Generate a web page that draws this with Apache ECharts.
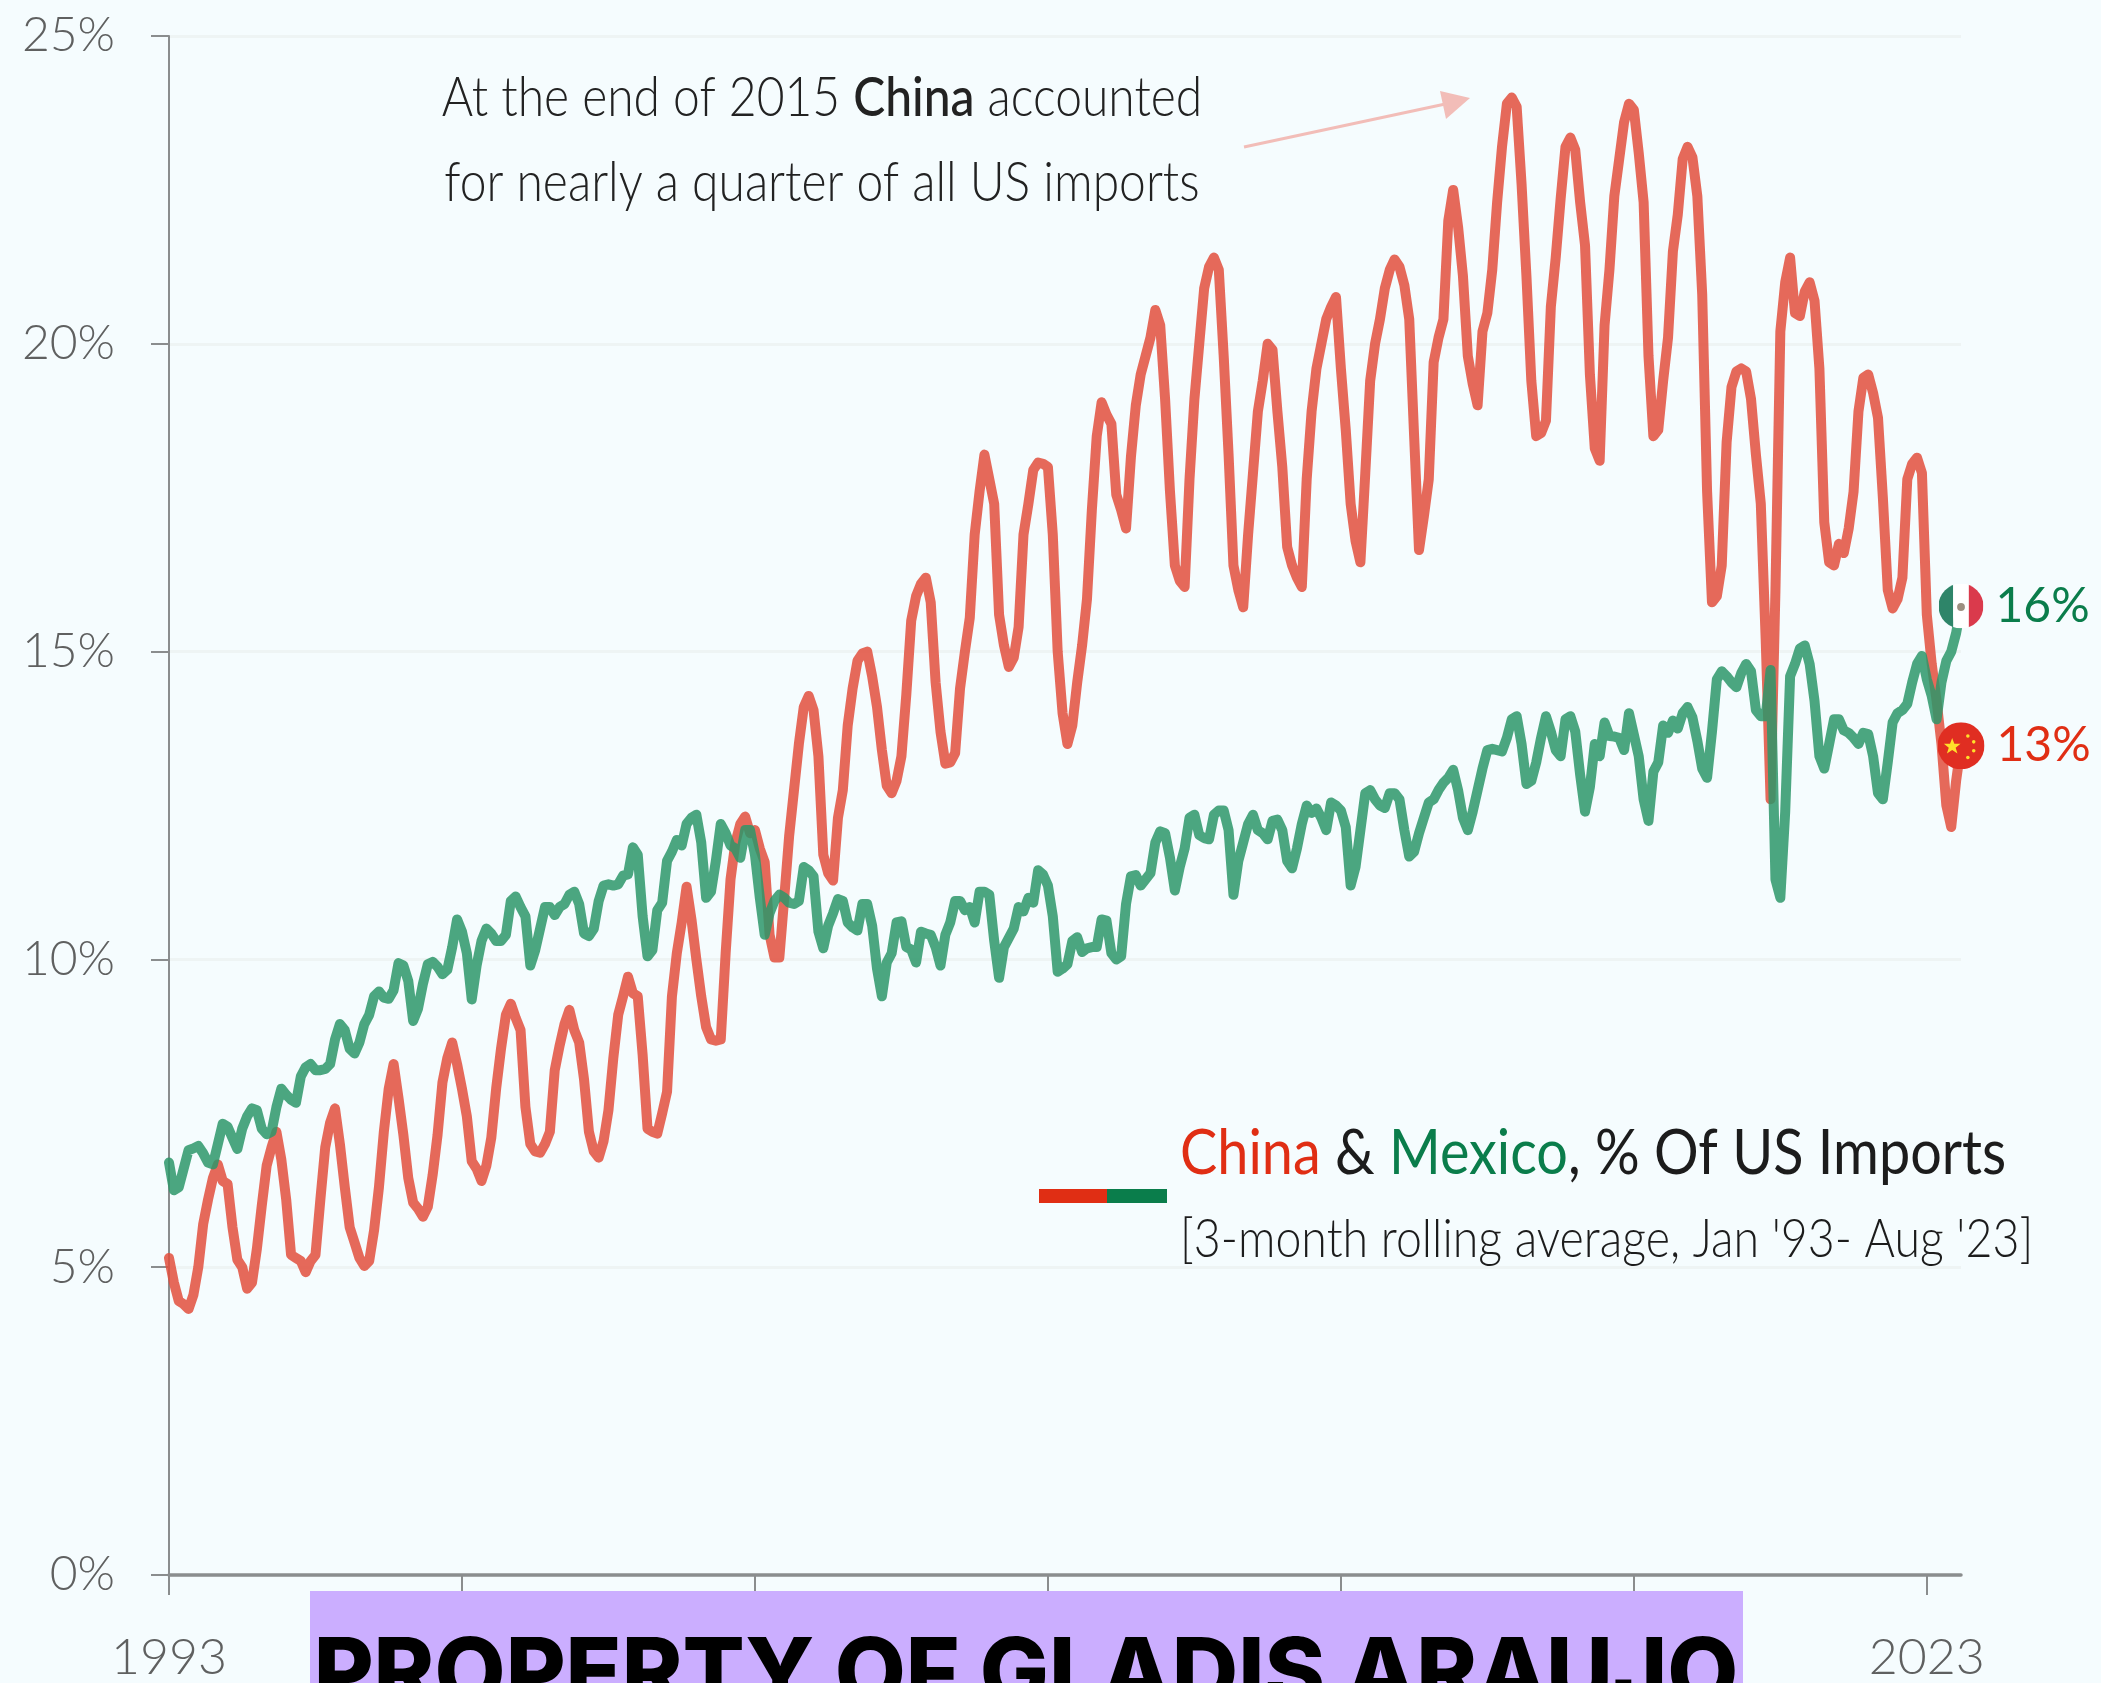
<!DOCTYPE html>
<html><head><meta charset="utf-8">
<style>html,body{margin:0;padding:0;background:#f5fcfe}#c{width:2101px;height:1683px}</style>
<script src="https://cdn.jsdelivr.net/npm/echarts@6/dist/echarts.min.js"></script>
</head><body><div id="c"></div>
<script>
const chinaShare = [
5.15,4.75,4.45,4.4,4.32,4.55,5.0,5.7,6.1,6.45,6.67,6.4,
6.35,5.65,5.12,5.0,4.65,4.75,5.3,6.0,6.65,6.95,7.2,6.75,
6.1,5.2,5.15,5.1,4.92,5.1,5.2,6.1,6.95,7.35,7.58,7.0,
6.3,5.65,5.4,5.15,5.02,5.1,5.6,6.3,7.2,7.9,8.3,7.75,
7.15,6.45,6.05,5.95,5.82,5.98,6.5,7.15,8.0,8.4,8.65,8.3,
7.9,7.45,6.72,6.6,6.4,6.65,7.1,7.9,8.55,9.1,9.28,9.05,
8.85,7.6,7.0,6.88,6.86,7.0,7.2,8.2,8.6,8.95,9.18,8.85,
8.65,8.05,7.2,6.88,6.78,7.05,7.55,8.4,9.1,9.4,9.72,9.45,
9.4,8.45,7.25,7.2,7.17,7.5,7.85,9.4,10.1,10.6,11.18,10.65,
10.0,9.4,8.9,8.7,8.68,8.7,10.1,11.3,11.9,12.2,12.32,12.05,
12.1,11.8,11.58,10.4,10.03,10.03,11.0,12.0,12.75,13.5,14.1,14.28,
14.05,13.3,11.7,11.4,11.28,12.3,12.75,13.8,14.4,14.85,14.97,15.0,
14.6,14.1,13.4,12.82,12.7,12.9,13.3,14.3,15.5,15.9,16.1,16.2,
15.8,14.5,13.7,13.18,13.2,13.35,14.4,15.0,15.55,16.9,17.6,18.2,
17.8,17.4,15.6,15.1,14.75,14.9,15.4,16.9,17.4,17.95,18.07,18.05,
18.0,16.9,15.0,14.0,13.5,13.8,14.5,15.1,15.85,17.3,18.5,19.05,
18.85,18.7,17.55,17.3,17.0,18.16,19.0,19.5,19.8,20.1,20.55,20.3,
19.1,17.6,16.4,16.15,16.05,17.8,19.1,20.0,20.9,21.25,21.4,21.2,
19.8,18.2,16.4,16.0,15.72,16.9,17.9,18.9,19.4,20.0,19.9,18.9,
18.0,16.7,16.4,16.2,16.05,17.8,18.9,19.6,20.0,20.4,20.6,20.76,
19.6,18.6,17.4,16.8,16.45,17.9,19.4,20.0,20.4,20.9,21.2,21.37,
21.25,20.95,20.4,18.5,16.65,17.2,17.8,19.7,20.1,20.4,22.0,22.5,
21.9,21.1,19.8,19.35,19.0,20.2,20.5,21.2,22.3,23.2,23.9,24.0,
23.85,22.6,21.1,19.4,18.5,18.55,18.75,20.6,21.4,22.35,23.2,23.35,
23.15,22.3,21.6,19.5,18.3,18.1,20.3,21.2,22.4,23.0,23.6,23.9,
23.8,23.1,22.3,19.8,18.5,18.6,19.4,20.1,21.5,22.1,23.0,23.2,
23.03,22.4,20.8,17.6,15.8,15.9,16.4,18.4,19.3,19.55,19.6,19.55,
19.1,18.2,17.4,15.2,12.6,16.0,20.2,21.0,21.4,20.5,20.45,20.85,
21.0,20.7,19.6,17.1,16.45,16.4,16.75,16.6,17.0,17.6,18.9,19.45,
19.5,19.2,18.8,17.5,16.0,15.7,15.85,16.2,17.8,18.05,18.15,17.9,
15.6,14.8,14.2,13.5,12.5,12.15,12.9,13.47
];
const mexicoShare = [
6.7,6.25,6.3,6.6,6.9,6.93,6.97,6.85,6.7,6.67,7.0,7.33,
7.28,7.1,6.92,7.25,7.45,7.58,7.55,7.25,7.16,7.2,7.6,7.9,
7.8,7.72,7.67,8.1,8.25,8.3,8.2,8.2,8.22,8.3,8.7,8.95,
8.85,8.55,8.47,8.65,8.95,9.1,9.4,9.48,9.38,9.36,9.5,9.94,
9.9,9.65,9.0,9.2,9.6,9.92,9.96,9.88,9.76,9.83,10.2,10.65,
10.45,10.1,9.35,9.9,10.3,10.5,10.42,10.3,10.3,10.4,10.95,11.02,
10.85,10.7,9.9,10.15,10.5,10.85,10.85,10.72,10.85,10.9,11.05,11.1,
10.9,10.42,10.38,10.5,10.95,11.2,11.22,11.2,11.22,11.36,11.38,11.82,
11.7,10.7,10.05,10.15,10.8,10.92,11.6,11.75,11.94,11.85,12.2,12.3,
12.35,11.9,11.0,11.1,11.6,12.2,12.05,11.85,11.8,11.65,12.1,12.1,
11.7,11.0,10.4,10.75,10.95,11.05,11.0,10.92,10.9,10.95,11.5,11.45,
11.35,10.45,10.18,10.55,10.75,10.98,10.95,10.6,10.52,10.47,10.9,10.9,
10.55,9.85,9.4,9.95,10.1,10.6,10.62,10.2,10.16,9.95,10.45,10.42,
10.4,10.2,9.9,10.4,10.6,10.95,10.95,10.8,10.85,10.6,11.1,11.1,
11.05,10.3,9.7,10.2,10.35,10.5,10.85,10.78,11.0,10.92,11.45,11.38,
11.2,10.7,9.8,9.85,9.92,10.3,10.36,10.12,10.18,10.2,10.2,10.65,
10.63,10.1,10.0,10.05,10.9,11.35,11.37,11.2,11.3,11.4,11.9,12.08,
12.05,11.65,11.12,11.5,11.8,12.3,12.35,12.02,11.97,11.95,12.35,12.42,
12.42,12.1,11.05,11.6,11.9,12.2,12.35,12.1,12.05,11.95,12.25,12.27,
12.1,11.6,11.48,11.8,12.2,12.5,12.38,12.45,12.3,12.1,12.55,12.5,
12.42,12.15,11.2,11.5,12.1,12.7,12.75,12.6,12.5,12.46,12.7,12.7,
12.6,12.1,11.67,11.75,12.05,12.3,12.55,12.6,12.75,12.87,12.95,13.08,
12.75,12.3,12.1,12.4,12.75,13.1,13.4,13.42,13.4,13.38,13.6,13.9,
13.95,13.5,12.85,12.9,13.2,13.6,13.95,13.7,13.4,13.3,13.9,13.95,
13.7,13.0,12.4,12.8,13.5,13.3,13.85,13.63,13.62,13.6,13.4,14.0,
13.65,13.3,12.6,12.25,13.05,13.2,13.8,13.68,13.88,13.75,14.0,14.1,
13.93,13.55,13.1,12.95,13.7,14.55,14.68,14.6,14.5,14.42,14.65,14.8,
14.68,14.05,13.95,13.95,14.7,11.3,11.0,12.4,14.6,14.8,15.05,15.1,
14.8,14.2,13.3,13.1,13.5,13.9,13.9,13.72,13.68,13.6,13.5,13.68,
13.66,13.3,12.7,12.6,13.2,13.85,14.0,14.05,14.15,14.5,14.8,14.93,
14.55,14.28,13.9,14.5,14.85,15.0,15.3,15.74
];
const monthLabels = [];
for (let y = 1993; monthLabels.length < chinaShare.length; y++) for (let m = 1; m <= 12 && monthLabels.length < chinaShare.length; m++) monthLabels.push(y + '-' + m);
const xTickIndexes = [0, 60, 120, 180, 240, 300, 360];
const xLabelYears = ['1993', '2023'];
const yTicks = [0, 5, 10, 15, 20, 25];
const lastChinaLabel = '13%';
const lastMexicoLabel = '16%';

const BG = '#f5fcfe', RED = '#e02e14', GREEN = '#0a7d4b', INK = '#222', AXIS = '#8a8d8e';
const FONT = 'Lato';
const flagMexico = 'image://data:image/svg+xml;utf8,' + encodeURIComponent('<svg xmlns="http://www.w3.org/2000/svg" viewBox="0 0 46 46"><defs><clipPath id="a"><circle cx="23" cy="23" r="23"/></clipPath></defs><g clip-path="url(#a)"><rect width="15" height="46" fill="#2e8569"/><rect x="15" width="16" height="46" fill="#fff"/><rect x="31" width="15" height="46" fill="#da3a4c"/><circle cx="23" cy="24" r="4" fill="#9c8f80"/></g></svg>');
const flagChina = 'image://data:image/svg+xml;utf8,' + encodeURIComponent('<svg xmlns="http://www.w3.org/2000/svg" viewBox="0 0 48 48"><circle cx="24" cy="24" r="24" fill="#e02e22"/><polygon fill="#ffe02a" points="15,16 17.2,22 23.5,22 18.5,26 20.4,32 15,28.4 9.6,32 11.5,26 6.5,22 12.8,22"/><circle cx="31" cy="14" r="1.8" fill="#ffe02a"/><circle cx="37" cy="20" r="1.8" fill="#ffe02a"/><circle cx="37" cy="29" r="1.8" fill="#ffe02a"/><circle cx="31" cy="36" r="1.8" fill="#ffe02a"/></svg>');

const chart = echarts.init(document.getElementById('c'), null, {renderer: 'canvas'});
function lineSeries(name, values, color, flag, labelColor, labelText) {
  return {
    name, type: 'line', data: values, showSymbol: false, smooth: false, silent: true,
    lineStyle: {color, width: 10, opacity: 0.85, join: 'round', cap: 'round'},
    markPoint: {
      silent: true, z: 10, animation: false,
      symbol: flag, symbolSize: name === 'China' ? 47 : 45,
      data: [{coord: [values.length - 1, values[values.length - 1]]}],
      label: {show: true, position: 'right', distance: 12, formatter: labelText, color: labelColor, fontFamily: FONT, fontSize: 48, fontWeight: 400}
    }
  };
}
chart.setOption({
  animation: false,
  backgroundColor: BG,
  grid: {left: 169, top: 36, width: 1792, height: 1541, containLabel: false},
  legend: {show: false},
  tooltip: {show: false},
  xAxis: {
    type: 'category', data: monthLabels, boundaryGap: false,
    axisLine: {lineStyle: {color: AXIS, width: 3.5}},
    axisTick: {length: 20, customValues: xTickIndexes, lineStyle: {color: AXIS, width: 2}},
    axisLabel: {
      customValues: [xTickIndexes[0], xTickIndexes[6]], margin: 58,
      formatter: v => { const y = String(v).slice(0, 4); return xLabelYears.includes(y) ? y : ''; },
      color: '#5f6060', fontFamily: FONT, fontWeight: 300, fontSize: 50
    },
    splitLine: {show: false}
  },
  yAxis: {
    type: 'value', min: yTicks[0], max: yTicks[yTicks.length - 1], interval: 5,
    axisLine: {show: true, lineStyle: {color: AXIS, width: 2}},
    axisTick: {show: true, length: 18, lineStyle: {color: AXIS, width: 2}},
    axisLabel: {formatter: '{value}%', margin: 54, color: '#5f6060', fontFamily: FONT, fontWeight: 300, fontSize: 48},
    splitLine: {show: true, lineStyle: {color: '#eef4f4', width: 3}}
  },
  series: [
    lineSeries('China', chinaShare, '#e24f3d', flagChina, RED, lastChinaLabel),
    lineSeries('Mexico', mexicoShare, '#2d966a', flagMexico, GREEN, lastMexicoLabel)
  ],
  graphic: {elements: [
    {type: 'line', z: 20, shape: {x1: 1244, y1: 147, x2: 1450, y2: 103}, style: {stroke: '#f2bdb8', lineWidth: 3}},
    {type: 'polygon', z: 20, shape: {points: [[1470, 98], [1440, 91], [1446, 119]]}, style: {fill: '#f2bdb8'}},
    {type: 'text', z: 20, x: 822, y: 98, scaleY: 1.14, style: {
      text: 'At the end of 2015 {b|China} accounted', align: 'center', verticalAlign: 'middle',
      fontFamily: FONT, fontSize: 48, fontWeight: 300, fill: INK,
      rich: {b: {fontFamily: FONT, fontSize: 48, fontWeight: 500, fill: INK}}
    }},
    {type: 'text', z: 20, x: 822, y: 183, scaleY: 1.14, style: {
      text: 'for nearly a quarter of all US imports', align: 'center', verticalAlign: 'middle',
      fontFamily: FONT, fontSize: 48, fontWeight: 300, fill: INK
    }},
    {type: 'rect', z: 20, shape: {x: 1039, y: 1189, width: 68, height: 14}, style: {fill: RED}},
    {type: 'rect', z: 20, shape: {x: 1107, y: 1189, width: 60, height: 14}, style: {fill: GREEN}},
    {type: 'text', z: 20, x: 1180, y: 1154, scaleY: 1.1, style: {
      text: '{r|China} & {g|Mexico}, % Of US Imports', align: 'left', verticalAlign: 'middle',
      fontFamily: FONT, fontSize: 55.8, fontWeight: 400, fill: '#1c1c1c',
      rich: {r: {fontFamily: FONT, fontSize: 55.8, fontWeight: 400, fill: RED}, g: {fontFamily: FONT, fontSize: 55.8, fontWeight: 400, fill: GREEN}}
    }},
    {type: 'text', z: 20, x: 1180, y: 1240, scaleY: 1.14, style: {
      text: "[3-month rolling average, Jan '93- Aug '23]", align: 'left', verticalAlign: 'middle',
      fontFamily: FONT, fontSize: 46.5, fontWeight: 300, fill: '#1c1c1c'
    }},
    {type: 'rect', z: 30, shape: {x: 310, y: 1591, width: 1433, height: 92}, style: {fill: '#cbaeff'}},
    {type: 'text', z: 31, x: 1026, y: 1630, style: {
      text: 'PROPERTY OF GLADIS ARAUJO', align: 'center', verticalAlign: 'top',
      fontFamily: 'Inter', fontSize: 92, fontWeight: 800, fill: '#000'
    }}
  ]}
});
</script></body></html>
